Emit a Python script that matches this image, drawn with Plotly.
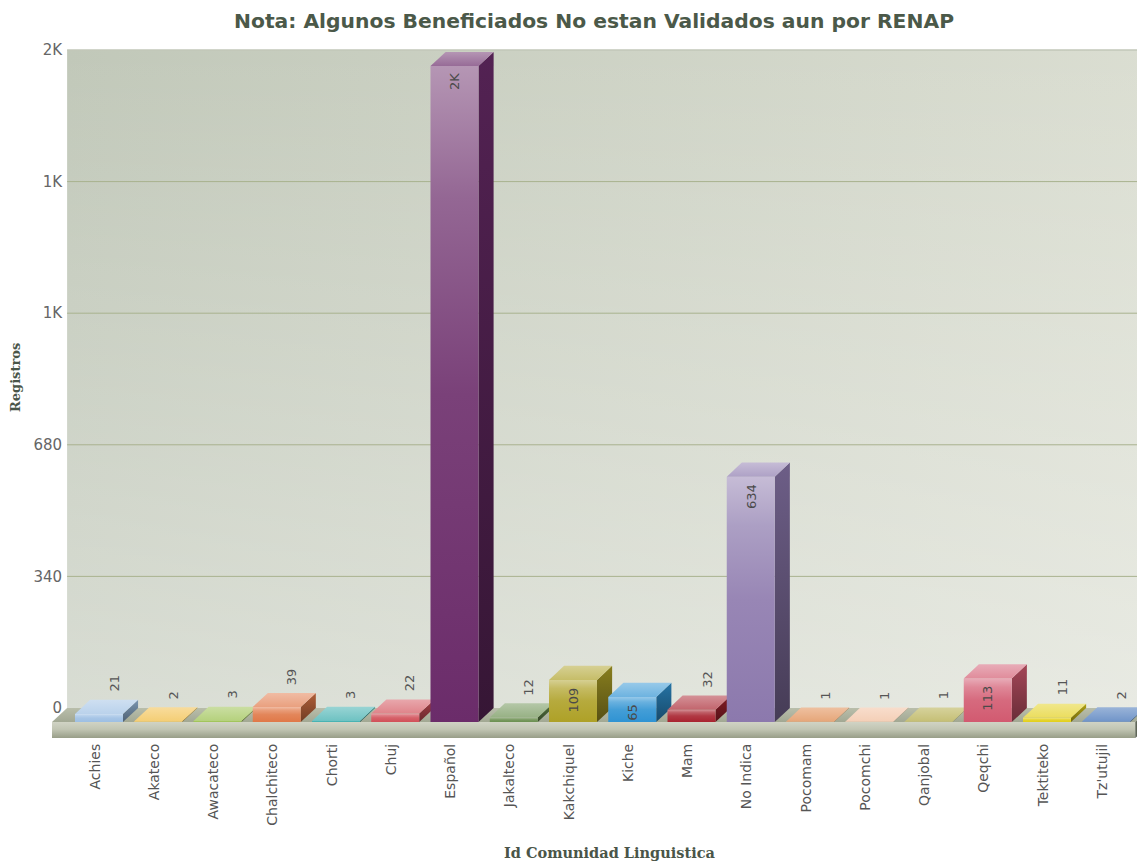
import plotly.graph_objects as go

# ---------------- data ----------------
categories = ["Achies", "Akateco", "Awacateco", "Chalchiteco", "Chorti", "Chuj",
              "Español", "Jakalteco", "Kakchiquel", "Kiche", "Mam", "No Indica",
              "Pocomam", "Pocomchi", "Qanjobal", "Qeqchi", "Tektiteko", "Tz'utujil"]
registros = [21, 2, 3, 39, 3, 22, 1695, 12, 109, 65, 32, 634, 1, 1, 1, 113, 11, 2]
bar_colors = ["#9dbfe3", "#f0b93a", "#95bd45", "#e07848", "#30a8a8", "#d14f58",
              "#6b2c6a", "#6a8f4f", "#aea127", "#2f93d3", "#a8232f", "#8c79ad",
              "#dc8040", "#f0bb98", "#aca43a", "#d25a70", "#e2cf18", "#3468b2"]
y_ticks = [0, 340, 680, 1020, 1360, 1700]

title_text = "Nota: Algunos Beneficiados No estan Validados aun por RENAP"
x_title = "Id Comunidad Linguistica"
y_title = "Registros"

# ---------------- geometry / style ----------------
FIG_W, FIG_H = 1137, 857       # page body has an 8px margin
ML, MT, MB = 44, 32, 125
PLOT_W = FIG_W - ML
PLOT_H = FIG_H - MT - MB

X_MIN, X_MAX = -0.793, 17.654
Y_MIN, Y_MAX = -82.7, 1725.8
DX, DY = 0.255, 36.5          # 3D depth offsets (data units)
W = 0.81                       # front face width
FLOOR_H = 41.0
FX0, FX1 = X_MIN, 17.49
WALL_L = FX0 + DX
WALL_R = X_MAX + 1
WALL_TOP = y_ticks[-1]


def _rgb(c):
    c = c.lstrip("#")
    return [int(c[i:i + 2], 16) for i in (0, 2, 4)]


def mix(c, t, f):
    a, b = _rgb(c), _rgb(t)
    return "#%02x%02x%02x" % tuple(round(a[i] + (b[i] - a[i]) * f) for i in range(3))


def lighten(c, f):
    return mix(c, "#ffffff", f)


def darken(c, f):
    return mix(c, "#000000", f)


def fmt(v):
    return f"{round(v / 1000)}K" if v >= 1000 else str(int(v))


def px_x(p):   # page pixel -> paper x
    return (p - 8 - ML) / PLOT_W


def px_y(p):   # page pixel -> paper y
    return (MT + PLOT_H - (p - 8)) / PLOT_H


fig = go.Figure()


def poly(xs, ys, colorscale=None, gtype="vertical", color=None):
    kw = {}
    if colorscale is not None:
        kw["fillgradient"] = dict(type=gtype, colorscale=colorscale)
    else:
        kw["fillcolor"] = color
    fig.add_trace(go.Scatter(x=xs + [xs[0]], y=ys + [ys[0]], mode="none",
                             fill="toself", hoverinfo="skip", showlegend=False, **kw))


# back wall (gradient)
poly([WALL_L, WALL_R, WALL_R, WALL_L], [0, 0, WALL_TOP, WALL_TOP],
     colorscale=[[0, "#c1c8b9"], [1, "#dcdfd3"]], gtype="horizontal")
poly([WALL_L, WALL_R, WALL_R, WALL_L], [0, 0, WALL_TOP, WALL_TOP],
     colorscale=[[0, "rgba(255,255,255,0.38)"], [1, "rgba(255,255,255,0)"]], gtype="vertical")

# grid lines on the wall
gx, gy = [], []
for t in y_ticks[1:-1]:
    gx += [WALL_L, WALL_R, None]
    gy += [t, t, None]
fig.add_trace(go.Scatter(x=gx, y=gy, mode="lines", line=dict(color="#a9b28f", width=1),
                         hoverinfo="skip", showlegend=False))
fig.add_trace(go.Scatter(x=[WALL_L, WALL_R], y=[WALL_TOP, WALL_TOP], mode="lines",
                         line=dict(color="#c2c7b8", width=1.5), hoverinfo="skip", showlegend=False))

# floor
poly([FX0, FX1, FX1 + DX, FX0 + DX], [-DY, -DY, 0, 0],
     colorscale=[[0, "#a2a893"], [1, "#b9beab"]])
poly([FX0, FX1, FX1, FX0], [-DY, -DY, -DY - FLOOR_H, -DY - FLOOR_H],
     colorscale=[[0, "#989e88"], [0.55, "#c1c5b3"], [1, "#d0d3c4"]])
poly([FX1, FX1 + DX, FX1 + DX, FX1], [-DY, 0, -FLOOR_H, -DY - FLOOR_H], color="#5f6657")

# 3D bars
for i, (v, c) in enumerate(zip(registros, bar_colors)):
    x0, x1 = i - W / 2, i + W / 2
    # side face
    poly([x1, x1, x1 + DX, x1 + DX], [-DY, v - DY, v, 0],
         colorscale=[[0, darken(c, 0.5)], [1, darken(c, 0.22)]])
    # front face
    poly([x0, x1, x1, x0], [-DY, -DY, v - DY, v - DY],
         colorscale=[[0, c], [0.5, lighten(c, 0.1)], [0.8, lighten(c, 0.28)], [1, lighten(c, 0.5)]])
    # top face
    poly([x0, x1, x1 + DX, x0 + DX], [v - DY, v - DY, v, v],
         colorscale=[[0, lighten(c, 0.3)], [1, lighten(c, 0.5)]])

# value labels
annotations = []
for i, v in enumerate(registros):
    if v >= 50:
        annotations.append(dict(x=i, y=v - DY, xref="x", yref="y", text=fmt(v),
                                showarrow=False, textangle=-90, xanchor="center", yanchor="top",
                                yshift=-5, font=dict(family="DejaVu Sans", size=13, color="#4a4a4a")))
    else:
        annotations.append(dict(x=i + DX, y=v, xref="x", yref="y", text=fmt(v),
                                showarrow=False, textangle=-90, xanchor="center", yanchor="bottom",
                                yshift=6, font=dict(family="DejaVu Sans", size=13, color="#555555")))

# axis titles
annotations.append(dict(x=px_x(609), y=px_y(852), xref="paper", yref="paper",
                        text="<b>" + x_title + "</b>", showarrow=False, xanchor="center", yanchor="middle",
                        font=dict(family="DejaVu Serif", size=14.5, color="#4a5548")))
annotations.append(dict(x=px_x(15), y=px_y(378), xref="paper", yref="paper",
                        text="<b>" + y_title + "</b>", showarrow=False, textangle=-90,
                        xanchor="center", yanchor="middle",
                        font=dict(family="DejaVu Serif", size=13, color="#4a5548")))

fig.update_layout(
    width=FIG_W, height=FIG_H,
    margin=dict(l=ML, r=0, t=MT, b=MB, pad=0),
    paper_bgcolor="white", plot_bgcolor="white",
    title=dict(text="<b>" + title_text + "</b>", xref="paper", x=px_x(594), xanchor="center",
               yref="container", y=1 - (21 - 8) / FIG_H, yanchor="middle",
               font=dict(family="DejaVu Sans", size=20.3, color="#4b5949")),
    xaxis=dict(range=[X_MIN, X_MAX], tickmode="array", tickvals=list(range(len(categories))),
               ticktext=categories, tickangle=-90, showgrid=False, zeroline=False, showline=False,
               ticks="", ticklabelshift=-4,
               tickfont=dict(family="DejaVu Sans", size=14, color="#555555")),
    yaxis=dict(range=[Y_MIN, Y_MAX], tickmode="array", tickvals=y_ticks,
               ticktext=[fmt(t) for t in y_ticks], anchor="free",
               position=(WALL_L - X_MIN) / (X_MAX - X_MIN),
               showgrid=False, zeroline=False, showline=False, ticks="", ticklabelstandoff=5,
               tickfont=dict(family="DejaVu Sans", size=15, color="#666666")),
    annotations=annotations,
    showlegend=False,
)

fig.write_html("out.html")
